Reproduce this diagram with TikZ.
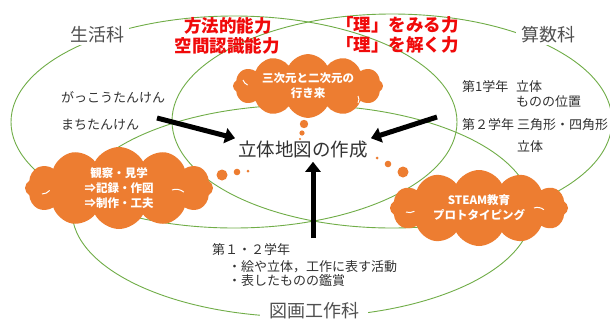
\documentclass[tikz,border=0pt]{standalone}
\usepackage{fontspec}
\setmainfont{Noto Sans CJK JP}
\usetikzlibrary{shapes.symbols,arrows.meta}
\definecolor{vgreen}{RGB}{112,173,71}
\definecolor{vorange}{RGB}{237,125,49}
\definecolor{vred}{RGB}{240,10,10}
\definecolor{vgray}{RGB}{80,80,80}
\definecolor{vtext}{RGB}{50,50,50}
\begin{document}
\begin{tikzpicture}[x=1pt,y=-1pt,
  venn/.style={draw=vgreen, line width=0.9pt},
  subj/.style={font=\fontsize{18}{20}\selectfont, text=vgray, fill=white, inner xsep=5pt, inner ysep=2pt},
  redtxt/.style={font=\bfseries\fontsize{17.5}{20}\selectfont, text=vred, inner sep=0pt},
  small/.style={font=\fontsize{13}{15}\selectfont, text=vtext, inner sep=0pt},
  cloudbox/.style={cloud, cloud puffs=12, cloud puff arc=125, fill=vorange, text=white,
     font=\bfseries\fontsize{11.5}{15}\selectfont, align=center, inner sep=0pt},
  inarc/.style={draw=white, line width=1pt},
  bubble/.style={fill=vorange},
  arr/.style={line width=5pt, -{Triangle[length=10pt,width=15pt]}}
]
\useasboundingbox (0,0) rectangle (610,322);
\fill[white] (0,0) rectangle (610,322);

% Venn ellipses
\draw[venn] (234,122) ellipse [x radius=223pt, y radius=106pt];
\draw[venn] (392,121) ellipse [x radius=220pt, y radius=107pt];
\draw[venn] (302,211) ellipse [x radius=230pt, y radius=106pt];

% subject labels
\node[subj] (seikatsu) at (97,35) {生活科};
\node[subj] (sansu) at (548,35) {算数科};
\node[subj, inner xsep=9pt] (zuga) at (314,311) {図画工作科};

% red texts
\node[redtxt] (r1) at (228,26) {方法的能力};
\node[redtxt] (r2) at (227,46) {空間認識能力};
\node[redtxt, anchor=west] (r3) at (336,25) {「理」をみる力};
\node[redtxt, anchor=west] (r4) at (336,45) {「理」を解く力};

% left texts
\node[small, anchor=west] (t1) at (61,97) {がっこうたんけん};
\node[small, anchor=west] (t2) at (61,125) {まちたんけん};

% right texts
\node[small, anchor=west] (m1) at (462,87) {第1学年};
\node[small, anchor=west] (m1b) at (516,87) {立体};
\node[small, anchor=west] (m1c) at (516,102) {ものの位置};
\node[small, anchor=west] (m2) at (462,125) {第２学年};
\node[small, anchor=west] (m2b) at (517,125) {三角形・四角形};
\node[small, anchor=west] (m2c) at (517,147) {立体};

% bottom texts
\node[small, anchor=west] (z1) at (212,250) {第１・２学年};
\node[small, anchor=west] (z2) at (228,267) {・絵や立体，工作に表す活動};
\node[small, anchor=west] (z3) at (228,281) {・表したものの鑑賞};

% clouds
\node[cloudbox, aspect=2.9, minimum width=150pt, minimum height=52pt] (c3d) at (308,86) {三次元と二次元の\\行き来};
\draw[inarc] (243,80) arc[start angle=200, end angle=245, radius=9pt];
\draw[inarc] (358,96) arc[start angle=30, end angle=-30, radius=7pt];
\fill[bubble] (304,124) circle[radius=4.2pt];
\fill[bubble] (302,133) circle[radius=2.6pt];
\fill[bubble] (300,139) circle[radius=1.2pt];

\node[cloudbox, aspect=2.3, minimum width=188pt, minimum height=82pt] (cobs) at (119,188) {観察・見学\\⇒記録・作図\\⇒制作・工夫};
\draw[inarc] (42,194) arc[start angle=270, end angle=320, radius=10pt];
\draw[inarc] (172,190) arc[start angle=110, end angle=50, radius=12pt];
\fill[bubble] (222,175) circle[radius=5.5pt];
\fill[bubble] (237,172) circle[radius=3.3pt];
\fill[bubble] (248,171) circle[radius=1.5pt];

\node[cloudbox, aspect=2.35, minimum width=178pt, minimum height=76pt] (csteam) at (479,208) {STEAM教育\\プロトタイピング};
\draw[inarc] (406,212) arc[start angle=250, end angle=300, radius=10pt];
\draw[inarc] (534,208) arc[start angle=110, end angle=50, radius=10pt];
\fill[bubble] (403,172) circle[radius=5.5pt];
\fill[bubble] (388,164) circle[radius=3.3pt];
\fill[bubble] (377,158) circle[radius=1.5pt];

% goal
\node[font=\fontsize{18.5}{20}\selectfont, text=vtext, inner sep=3pt] (goal) at (303,150) {立体地図の作成};

% arrows
\coordinate (s1) at (157,118);
\coordinate (s2) at (437,117);
\coordinate (s3) at (313,238);
\draw[arr] (s1) -- (goal.north west);
\draw[arr] (s2) -- (goal.north east);
\draw[arr] (s3) -- (s3 |- goal.south);
\end{tikzpicture}
\end{document}
